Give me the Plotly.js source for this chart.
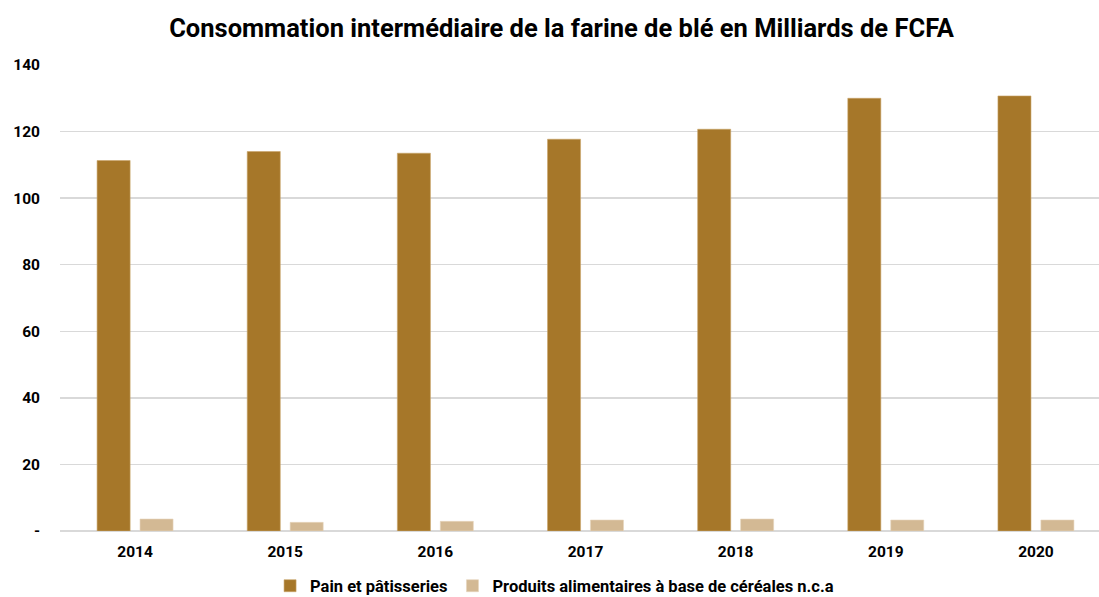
<!DOCTYPE html>
<html>
<head>
<meta charset="utf-8">
<script src="https://cdn.plot.ly/plotly-3.0.1.min.js"></script>
<style>html,body{margin:0;padding:0;background:#fff;}#chart{width:1099px;height:597px;}</style>
</head>
<body>
<div id="chart"></div>
<script>
const years = ['2014','2015','2016','2017','2018','2019','2020'];
const pain = [111.3, 114.0, 113.5, 117.7, 120.7, 130.0, 130.7];
const produits = [3.6, 2.6, 2.9, 3.3, 3.6, 3.3, 3.3];
const seriesNames = ['Pain et pâtisseries', 'Produits alimentaires à base de céréales n.c.a'];
const tickVals = [0, 20, 40, 60, 80, 100, 120, 140];
const tickText = ['-', '20', '40', '60', '80', '100', '120', '140'];

const traces = [
  {type:'bar', name: seriesNames[0], x: years, y: pain, width: 0.22, offset: -0.253,
   marker:{color:'#A67729', line:{color:'#C9A56A', width:0.6}}},
  {type:'bar', name: seriesNames[1], x: years, y: produits, width: 0.22, offset: 0.033,
   marker:{color:'#D3B994', line:{color:'#E6D5BC', width:0.6}}}
];

const layout = {
  width: 1099, height: 597,
  margin: {l: 60, r: 0, t: 65, b: 66, autoexpand: false},
  paper_bgcolor: '#fff', plot_bgcolor: '#fff',
  font: {family: 'Roboto, Arial, sans-serif', color: '#000'},
  title: {text: '<b>Consommation intermédiaire de la farine de blé en Milliards de FCFA</b>',
          font: {size: 25.5, color: '#000', family: 'Roboto, Arial, sans-serif'},
          x: 0.511, xanchor: 'center', y: 0.953, yanchor: 'middle'},
  barmode: 'group',
  xaxis: {type: 'category', range: [-0.5, 6.42], showgrid: false, zeroline: false,
          showline: false, ticks: '', automargin: false, ticklabelstandoff: 9,
          tickfont: {size: 15.5, color: '#000', family: 'Roboto, Arial, sans-serif', weight: 'bold'}},
  yaxis: {range: [0, 140], tickvals: tickVals, ticktext: tickText,
          showgrid: true, gridcolor: '#D9D9D9', gridwidth: 1.5,
          zeroline: true, zerolinecolor: '#D9D9D9', zerolinewidth: 1.5,
          showline: false, ticks: '', ticklabelstandoff: 19, automargin: false,
          tickfont: {size: 15.5, color: '#000', family: 'Roboto, Arial, sans-serif', weight: 'bold'}},
  showlegend: true,
  legend: {orientation: 'h', x: 0.476, xanchor: 'center', y: -0.118, yanchor: 'middle',
           font: {size: 16.5, color: '#000', family: 'Roboto, Arial, sans-serif', weight: 'bold'},
           itemwidth: 30, traceorder: 'normal'}
};

Plotly.newPlot('chart', traces, layout, {displayModeBar: false, staticPlot: true});
</script>
</body>
</html>
